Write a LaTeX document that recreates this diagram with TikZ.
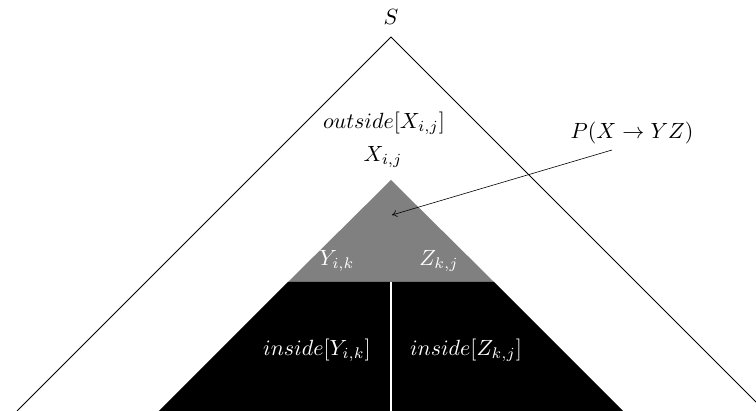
\documentclass[tikz,border=0pt]{standalone}
\usepackage{graphicx}
\usetikzlibrary{arrows.meta}
\newcommand\bigtxt[1]{\scalebox{2.2}{#1}}
\begin{document}
\begin{tikzpicture}[x=1pt,y=-1pt,
  lbl/.style={inner sep=0pt},
  wlbl/.style={lbl,text=white}]
\useasboundingbox (0,0) rectangle (756,411);
\begin{scope}
\clip (0,0) rectangle (756,411);
\coordinate (apex) at (391,37);
\coordinate (bl) at (17,411);
\coordinate (br) at (765,411);
\draw[line width=0.8pt] (bl) -- (apex) -- (br);
\fill[gray] (391,180) -- (494,282) -- (288,282) -- cycle;
\fill[black] (288,282) -- (494,282) -- (623,411) -- (159,411) -- cycle;
\draw[white,line width=1.2pt] (391,282) -- (391,411);
\end{scope}
\node[lbl] (s) at (391,17) {\bigtxt{$S$}};
\node[lbl] (out) at (384,123) {\bigtxt{$outside[X_{i,j}]$}};
\node[lbl] (x) at (383,157) {\bigtxt{$X_{i,j}$}};
\node[wlbl] (y) at (337,261) {\bigtxt{$Y_{i,k}$}};
\node[wlbl] (z) at (439,261) {\bigtxt{$Z_{k,j}$}};
\node[wlbl] (iy) at (317,350) {\bigtxt{$inside[Y_{i,k}]$}};
\node[wlbl] (iz) at (466,350) {\bigtxt{$inside[Z_{k,j}]$}};
\node[lbl] (p) at (632,133) {\bigtxt{$P(X\to YZ)$}};
\coordinate (tip) at (392,215);
\draw[-{To[length=5pt,width=7pt]},line width=0.6pt] (612,150) -- (tip);
\end{tikzpicture}
\end{document}
